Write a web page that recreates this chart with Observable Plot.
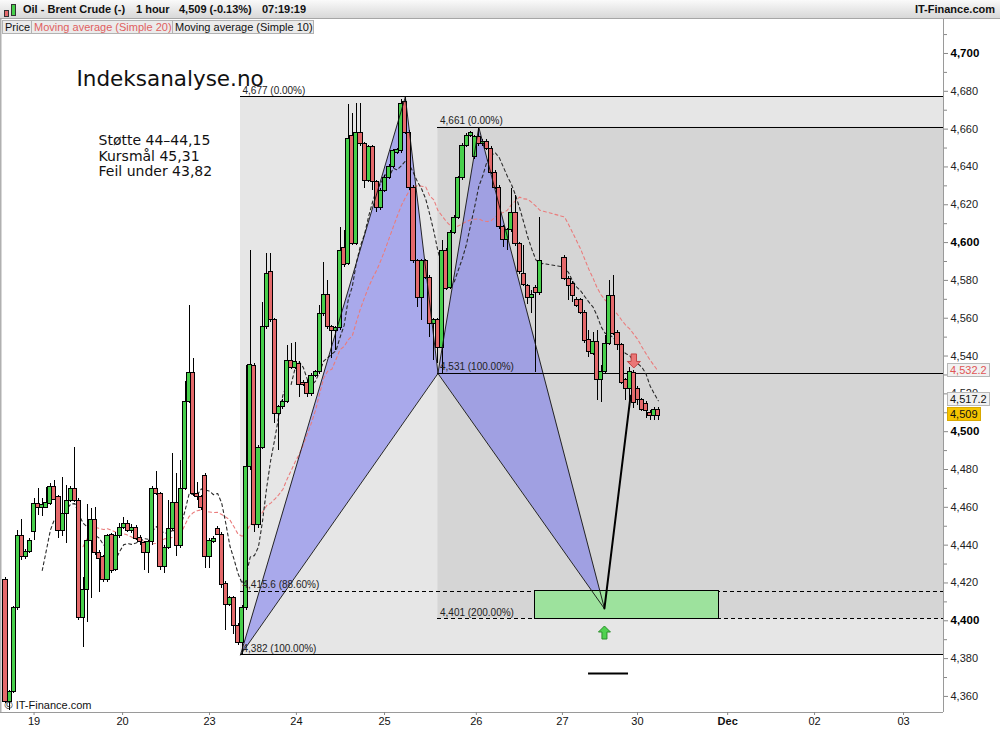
<!DOCTYPE html>
<html><head><meta charset="utf-8">
<script src="https://cdn.jsdelivr.net/npm/d3@7"></script>
<script src="https://cdn.jsdelivr.net/npm/@observablehq/plot@0.6"></script>
<style>
body{margin:0;background:#fff;font-family:"Liberation Sans",Arial,sans-serif;}
#wrap{position:relative;width:1000px;height:730px;overflow:hidden;background:#fff;}
#hdr{position:absolute;left:0;top:0;width:1000px;height:19px;background:linear-gradient(#fafafa,#d8d8d8);border-bottom:1px solid #a6a6a6;box-sizing:border-box;z-index:2;}
.ht{position:absolute;top:3px;font-weight:bold;font-size:11px;color:#111;white-space:nowrap;line-height:13px;}
#chart{position:absolute;left:0;top:18px;}
#leg{position:absolute;left:2px;top:20px;display:flex;z-index:2;}
.lg{font-size:11px;background:#ebebeb;border:1px solid #b2b2b2;height:12px;line-height:12px;padding:0 2px;margin-right:-1px;white-space:nowrap;color:#111;box-sizing:content-box;}
.pl{position:absolute;font-size:11px;line-height:12px;height:12px;padding:0 2px;border:1px solid #b8b8b8;background:#f1f1f1;white-space:nowrap;z-index:2;}
.ic{position:absolute;border:1px solid #333;box-sizing:border-box;}
</style></head>
<body><div id="wrap">
<div id="hdr">
  <div class="ic" style="left:4px;top:10px;width:5px;height:7px;background:#e4696b"></div>
  <div class="ic" style="left:11px;top:4px;width:5px;height:12px;background:#47cf4b"></div>
  <div class="ht" style="left:23px">Oil - Brent Crude (-)</div>
  <div class="ht" style="left:136px">1 hour</div>
  <div class="ht" style="left:179px">4,509 (-0.13%)</div>
  <div class="ht" style="left:262px">07:19:19</div>
  <div class="ht" style="right:5px">IT-Finance.com</div>
</div>
<div id="leg">
  <div class="lg" style="width:24px">Price</div>
  <div class="lg" style="width:136px;color:#e06060">Moving average (Simple 20)</div>
  <div class="lg" style="width:136px">Moving average (Simple 10)</div>
</div>
<div id="chart"></div>
</div>
<script>
// ---- candle data (hourly bars, price x100) ----
const opens = [4421.8,4357.3,4362.6,4406.5,4444.6,4433.5,4436.6,4446.7,4461.5,4459.9,
4459.9,4461.5,4471,4465.2,4447.7,4456.7,4463.6,4469.9,4463.6,4401.7,
4416.5,4442.4,4453.5,4436.1,4433.5,4421.8,4445.6,4427.1,4444.6,4449.3,
4451.4,4447.7,4449.3,4444,4440.9,4436.1,4441.4,4469.9,4466.8,4428.2,
4438.7,4448.8,4462.5,4439.3,4469.9,4515.9,4530.8,4466.8,4465.2,4476.8,
4433.5,4441.9,4448.8,4445.6,4419.7,4408.6,4411.8,4397.5,4388.5,4407,
4481.1,4534.5,4450.4,4491.6,4555.1,4584.2,4558.8,4509.6,4512.8,4515.9,
4537.6,4533.9,4536,4526,4526,4519.7,4529.7,4531.3,4562,4572.5,
4555.1,4553.5,4554.6,4596.9,4588.9,4656.1,4599.5,4657.7,4651.9,4632.8,
4650.3,4631.8,4618.5,4627.5,4634.4,4640.2,4647.6,4648.2,4674.1,4658.2,
4629.1,4590,4570.9,4590,4581.5,4557.2,4558.8,4544.5,4595.8,4576.2,
4605.3,4613.2,4633.9,4651.3,4656.6,4645,4655.6,4651.9,4653.4,4649.7,
4637,4629.1,4608,4601.6,4606.4,4615.4,4599,4583.6,4576.8,4570.9,
4576.2,4573.1,
4591.6,4581,4578.3,4569.9,4569.4,4563,4548.7,4541.3,4547.2,4527.1,
4531.3,4546.6,4572,4552.4,4545.6,4527.1,4522.8,4530.8,4522.8,4516.5,
4514.9,4510.1,4508.5,4511.7];
const highs = [4422.9,4363.1,4407.6,4447.7,4453.5,4437.7,4443.5,4464.7,4469.9,4464.7,
4470.5,4472.6,4474.2,4466.2,4475.8,4471.5,4471,4491.6,4464.7,4422.9,
4461.5,4459.4,4459.9,4437.2,4434.5,4445.6,4446.1,4446.7,4451.4,4454.6,
4453,4450.9,4450.4,4445.1,4441.9,4442.4,4471,4478.9,4467.8,4439.8,
4463.6,4488.5,4477.9,4484.8,4526.5,4566.7,4538.7,4473.1,4466.2,4477.9,
4443.5,4444.6,4449.8,4446.7,4420.8,4412.8,4412.8,4398.6,4408.1,4535,
4595.8,4536,4492.7,4568.3,4594.2,4594.2,4559.8,4513.8,4517,4545.6,
4546.6,4547.2,4537.1,4527.1,4527.1,4530.8,4532.3,4566.7,4589.5,4579.9,
4556.1,4555.6,4608,4606.4,4673,4668.2,4673.5,4673.5,4652.9,4651.3,
4651.3,4632.8,4628.6,4635.5,4641.3,4649.2,4649.7,4675.6,4676.7,4659.3,
4630.2,4591,4591,4591,4582.6,4559.8,4559.8,4601.1,4596.9,4606.4,
4614.3,4634.9,4652.4,4657.7,4658.7,4656.6,4660.8,4654.5,4654.5,4650.8,
4638.1,4630.2,4609,4607.4,4628.6,4624.9,4600,4598.4,4577.8,4574.6,
4577.3,4613.2,
4593.2,4582.1,4579.4,4570.9,4570.4,4564.1,4553.5,4552.4,4553.5,4535,
4550.8,4579.9,4582.6,4553.5,4546.6,4528.1,4533.9,4532.3,4523.9,4517.5,
4515.9,4511.2,4512.8,4512.8];
const lows = [4356.3,4352.6,4361.5,4405.4,4431.9,4432.4,4435.6,4442.4,4455.7,4455.1,
4459.4,4461,4463.6,4443.5,4444.6,4440.9,4462.5,4462.5,4400.1,4385.9,
4399.1,4411.8,4434.5,4415,4420.2,4420.2,4425,4426.1,4443.5,4448.3,
4446.7,4446.1,4442.4,4439.8,4426.6,4425,4439.8,4466.2,4426.6,4425,
4437.7,4447.7,4434,4438.2,4468.9,4514.9,4465.7,4463.6,4458.3,4427.6,
4427.6,4440.9,4445.1,4417.1,4394.9,4407.6,4392.7,4386.9,4382.2,4405.4,
4479.5,4446.7,4448.8,4490.6,4554,4557.7,4504.3,4490,4511.7,4514.9,
4532.9,4532.9,4518.1,4523.9,4518.1,4518.6,4528.6,4530.2,4560.9,4554,
4538.7,4542.9,4553.5,4586.8,4587.9,4598.4,4598.4,4650.8,4628.6,4631.8,
4627.5,4615.9,4617,4626.5,4633.3,4639.2,4646.6,4647.1,4657.1,4627.5,
4588.9,4565.7,4558.8,4580.5,4549.8,4537.6,4536,4530.8,4574.6,4575.2,
4604.3,4612.2,4632.8,4650.3,4655.6,4644,4650.8,4650.8,4648.7,4636,
4628.1,4606.9,4597.4,4595.8,4605.3,4597.9,4583.1,4576.8,4567.2,4562.5,
4531.3,4572,
4579.9,4569.4,4568.3,4565.7,4562,4546.6,4539.2,4540.3,4516.5,4515.4,
4530.2,4545.6,4550.8,4542.9,4524.9,4516.5,4516.5,4512.2,4513.9,4510.7,
4507,4505.9,4505.9,4505.9];
const closes = [4357.3,4362.6,4406.5,4444.6,4433.5,4436.6,4442.4,4461.5,4459.9,4461,
4462.5,4470.5,4464.1,4447.7,4456.7,4463.6,4469.9,4463.6,4401.7,4416.5,
4442.4,4453.5,4436.1,4432.9,4421.8,4444.6,4426.1,4444.6,4449.3,4451.4,
4447.7,4449.3,4443.5,4441.9,4436.1,4441.4,4469.9,4467.3,4428.2,4438.7,
4448.8,4462.5,4439.3,4469.9,4515.9,4530.8,4466.8,4465.2,4459.4,4433.5,
4442.4,4443.5,4445.6,4418.7,4408.6,4411.8,4397.5,4388.5,4407,4481.1,
4535.5,4450.4,4491.6,4555.1,4583.6,4558.8,4509.6,4512.8,4515.9,4537.6,
4533.9,4537.1,4524.9,4524.9,4519.7,4529.7,4531.3,4562,4572.5,4555.1,
4553.5,4554.6,4595.8,4587.9,4655,4599.5,4657.7,4651.9,4632.8,4650.3,
4631.8,4618.5,4627.5,4634.4,4640.2,4648.2,4648.7,4673.5,4658.2,4629.1,
4590,4570.9,4590,4581.5,4557.2,4558.8,4544.5,4595.8,4575.7,4605.3,
4613.2,4633.9,4651.3,4656.6,4657.7,4655.6,4651.9,4653.4,4649.7,4637,
4629.1,4608,4601.6,4606.4,4615.4,4599,4584.2,4577.8,4570.9,4572.5,
4573.1,4590.5,
4581,4576.8,4571.5,4566.7,4563,4547.7,4541.9,4547.2,4527.1,4531.3,
4546.6,4572,4551.9,4546.1,4526,4522.8,4531.3,4515.4,4516.5,4511.7,
4511.2,4508.5,4511.7,4508.5];
// hour slot of each bar (no trading for a few hours on the 26th evening)
const slots = d3.range(0, 132).concat(d3.range(137, 161));

// date axis
const dateSlots  = [7, 28.7, 50, 71.3, 92.9, 115.4, 136.5, 154.9, 177, 198.3, 220.1];
const dateLabels = ["19","20","23","24","25","26","27","30","Dec","02","03"];

// harmonic pattern points X A B C D and completion point
const patNames  = ["X","A","B","C","D"];
const patSlots  = [57.6, 98, 106, 116, 146.8];
const patPrices = [4382, 4677, 4531, 4661, 4406.5];
const endSlot = 153.2, endPrice = 4519;

// retracement levels
const levelPrices = [4677, 4661, 4531, 4415.6, 4401, 4382];
const levelLabels = ["4,677 (0.00%)","4,661 (0.00%)","4,531 (100.00%)","4,415.6 (88.60%)","4,401 (200.00%)","4,382 (100.00%)"];
const levelFrom   = ["X","B","B","X","B","X"];
const levelDashed = [false,false,false,true,true,false];

// target zone
const zoneSlots = [129.9, 174.8];
const zonePrices = [4401, 4415.6];
// arrows and marker
const upArrowAt = [146.8, 4393.8];
const downArrowAt = [154.0, 4537.4];
const markerSlots = [142.9, 152.7], markerPrice = 4372.1;

// last-value labels
const lastLabelValues = [4532.2, 4517.2, 4509];
const lastLabelTexts  = ["4,532.2", "4,517.2", "4,509"];

const commentTitle = "Indeksanalyse.no";
const commentLines = "Støtte 44–44,15\nKursmål 45,31\nFeil under 43,82";

// ---- build ----
const bars = slots.map((s, i) => ({s, o: opens[i], h: highs[i], l: lows[i], c: closes[i]}));
const pt = Object.fromEntries(patNames.map((n, i) => [n, {i: patSlots[i], p: patPrices[i]}]));
const xDom = [-1.225, 229.9], yDom = [4351.5, 4718.5];
const levels = levelPrices.map((v, i) => ({v, x1: pt[levelFrom[i]].i, label: levelLabels[i], dashed: levelDashed[i]}));
const tri1 = [pt.X, pt.A, pt.B], tri2 = [pt.B, pt.C, pt.D];
const GREEN = "#47cf4b", RED = "#e4696b";

const upSym = {draw(ctx) {
  ctx.moveTo(0,-6.5); ctx.lineTo(6,-0.5); ctx.lineTo(2.5,-0.5); ctx.lineTo(2.5,6.5);
  ctx.lineTo(-2.5,6.5); ctx.lineTo(-2.5,-0.5); ctx.lineTo(-6,-0.5); ctx.closePath(); }};
const downSym = {draw(ctx) {
  ctx.moveTo(0,7); ctx.lineTo(6.5,0.5); ctx.lineTo(2.7,0.5); ctx.lineTo(2.7,-7);
  ctx.lineTo(-2.7,-7); ctx.lineTo(-2.7,0.5); ctx.lineTo(-6.5,0.5); ctx.closePath(); }};

const fmt = d3.format(",");
const chart = Plot.plot({
  width: 1000, height: 712,
  marginLeft: 0, marginRight: 57, marginTop: 0, marginBottom: 18,
  x: {domain: xDom, label: null},
  y: {domain: yDom, label: null},
  style: {fontFamily: "Liberation Sans, Arial, sans-serif", fontSize: "11px", background: "transparent", overflow: "visible"},
  marks: [
    // fib boxes
    Plot.rect([0], {x1: pt.X.i, x2: xDom[1], y1: levelPrices[5], y2: levelPrices[0], fill: "#e6e6e6"}),
    Plot.rect([0], {x1: pt.B.i, x2: xDom[1], y1: levelPrices[4], y2: levelPrices[1], fill: "#d5d5d5"}),
    // pattern fills
    Plot.line(tri1, {x: "i", y: "p", curve: "linear-closed", fill: "#6b6bf0", fillOpacity: 0.5, stroke: "none"}),
    Plot.line(tri2, {x: "i", y: "p", curve: "linear-closed", fill: "#6b6bf0", fillOpacity: 0.5, stroke: "none"}),
    // level lines
    Plot.ruleY(levels.filter(d => !d.dashed), {y: "v", x1: "x1", x2: xDom[1], stroke: "#000", strokeWidth: 1, shapeRendering: "crispEdges"}),
    Plot.ruleY(levels.filter(d => d.dashed), {y: "v", x1: "x1", x2: xDom[1], stroke: "#000", strokeWidth: 1, strokeDasharray: "4,3", shapeRendering: "crispEdges"}),
    // target zone
    Plot.rect([0], {x1: zoneSlots[0], x2: zoneSlots[1], y1: zonePrices[0], y2: zonePrices[1], fill: "#9de29d", stroke: "#000", strokeWidth: 1, shapeRendering: "crispEdges"}),
    // moving averages
    Plot.lineY(bars, Plot.windowY({k: 20, anchor: "end", strict: true}, {x: "s", y: "c", stroke: "#ea7c7c", strokeWidth: 1.1, strokeDasharray: "3,3"})),
    Plot.lineY(bars, Plot.windowY({k: 10, anchor: "end", strict: true}, {x: "s", y: "c", stroke: "#2a2a2a", strokeWidth: 1.1, strokeDasharray: "3,3"})),
    // candles
    Plot.ruleX(bars, {x: "s", y1: "l", y2: "h", stroke: "#000", strokeWidth: 1, shapeRendering: "crispEdges"}),
    Plot.rect(bars.filter(d => d.c >= d.o), {x1: d => d.s - 0.5, x2: d => d.s + 0.5, y1: "o", y2: "c", fill: GREEN, stroke: "#000", strokeWidth: 1, shapeRendering: "crispEdges"}),
    Plot.rect(bars.filter(d => d.c < d.o), {x1: d => d.s - 0.5, x2: d => d.s + 0.5, y1: "o", y2: "c", fill: RED, stroke: "#000", strokeWidth: 1, shapeRendering: "crispEdges"}),
    // pattern outlines
    Plot.line(tri1, {x: "i", y: "p", curve: "linear-closed", stroke: "#111", strokeWidth: 0.9}),
    Plot.line(tri2, {x: "i", y: "p", curve: "linear-closed", stroke: "#111", strokeWidth: 0.9}),
    Plot.line([pt.D, {i: endSlot, p: endPrice}], {x: "i", y: "p", stroke: "#000", strokeWidth: 2}),
    // arrows & marker
    Plot.dot([upArrowAt], {x: d => d[0], y: d => d[1], symbol: upSym, r: 6, fill: "#4fd24f", stroke: "#2b8f2b", strokeWidth: 1}),
    Plot.dot([downArrowAt], {x: d => d[0], y: d => d[1], symbol: downSym, r: 6, fill: "#ea7676", stroke: "#c24343", strokeWidth: 1}),
    Plot.ruleY([markerPrice], {x1: markerSlots[0], x2: markerSlots[1], stroke: "#000", strokeWidth: 2}),
    // level labels
    Plot.text(levels, {x: "x1", y: "v", text: "label", dx: 2, dy: -6.5, textAnchor: "start", fontSize: 10, fill: "#222"}),
    // frame lines
    Plot.ruleY([yDom[0]], {stroke: "#9a9a9a"}),
    Plot.ruleX([xDom[1]], {stroke: "#9a9a9a"}),
    Plot.ruleX([xDom[0]], {stroke: "#b0b0b0", strokeWidth: 2}),
    // axes
    Plot.axisY({anchor: "right", ticks: d3.range(4370, 4720, 20), tickSize: 3, tickFormat: () => "", stroke: "#888"}),
    Plot.axisY({anchor: "right", ticks: d3.range(4360, 4701, 20).filter(v => v % 100 !== 0), tickSize: 4, tickPadding: 3, tickFormat: fmt, stroke: "#888", fill: "#222", fontSize: 11}),
    Plot.axisY({anchor: "right", ticks: d3.range(4400, 4701, 100), tickSize: 4, tickPadding: 3, tickFormat: fmt, stroke: "#888", fill: "#000", fontSize: 11.5, fontWeight: "bold"}),
    Plot.axisX({anchor: "bottom", ticks: dateSlots.filter((d, i) => dateLabels[i] !== "Dec"), tickFormat: d => dateLabels[dateSlots.indexOf(d)], tickSize: 3, tickPadding: 2, stroke: "#888", fill: "#111", fontSize: 11}),
    Plot.axisX({anchor: "bottom", ticks: dateSlots.filter((d, i) => dateLabels[i] === "Dec"), tickFormat: d => dateLabels[dateSlots.indexOf(d)], tickSize: 3, tickPadding: 2, stroke: "#888", fill: "#111", fontSize: 11, fontWeight: "bold"}),
    // comments
    Plot.text([commentTitle], {frameAnchor: "top-left", text: d => d, dx: 76, dy: 61, textAnchor: "start", lineAnchor: "middle", fontSize: 21.5, fontFamily: "DejaVu Sans", fill: "#111"}),
    Plot.text([commentLines], {frameAnchor: "top-left", text: d => d, dx: 98, dy: 116, textAnchor: "start", lineAnchor: "top", fontSize: 14, lineHeight: 1.1, fontFamily: "DejaVu Sans", fill: "#111"}),
    Plot.text(["© IT-Finance.com"], {frameAnchor: "bottom-left", text: d => d, dx: 4, dy: -7, textAnchor: "start", lineAnchor: "middle", fontSize: 11, fill: "#111"})
  ]
});
document.getElementById("chart").appendChild(chart);

// last-value boxes on the price axis, placed with the plot's own y scale
const ys = chart.scale("y");
const styles = [
  {color: "#e05555", bg: "#f1f1f1", border: "#b8b8b8"},
  {color: "#111", bg: "#f1f1f1", border: "#b8b8b8"},
  {color: "#111", bg: "#f5c400", border: "#d8a800"}
];
lastLabelValues.forEach((v, i) => {
  const d = document.createElement("div");
  d.className = "pl";
  d.textContent = lastLabelTexts[i];
  d.style.left = "947px";
  d.style.top = (18 + ys.apply(v) - 7) + "px";
  d.style.color = styles[i].color;
  d.style.background = styles[i].bg;
  d.style.borderColor = styles[i].border;
  document.getElementById("wrap").appendChild(d);
});
</script>
</body></html>
